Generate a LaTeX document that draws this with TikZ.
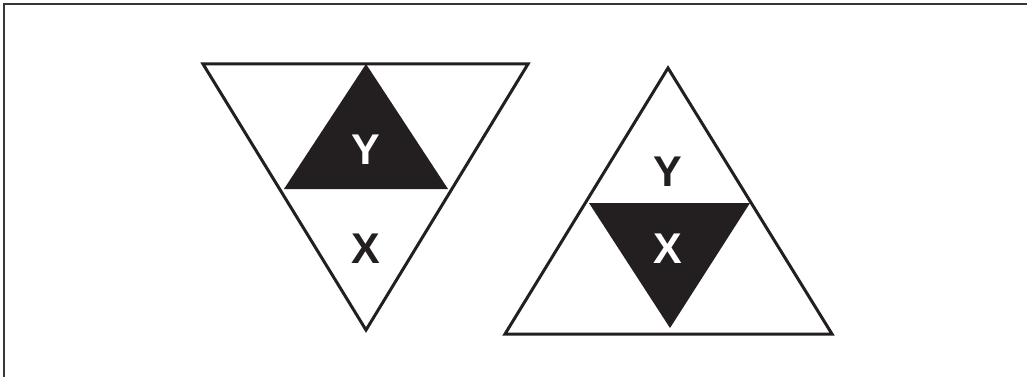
\documentclass[tikz,border=0pt]{standalone}
\usepackage{fontspec}
\setmainfont{Liberation Sans}
\definecolor{ink}{HTML}{231F20}
\begin{document}
\begin{tikzpicture}[x=1pt,y=-1pt,
  outline/.style={draw=ink,line width=3pt,line join=miter},
  solid/.style={fill=ink},
  lbl/.style={font=\fontsize{43}{43}\selectfont\bfseries,inner sep=0pt,anchor=base},
  frame/.style={draw=ink!90,line width=2pt}]
\useasboundingbox (0,0) rectangle (1027,377);
% frame
\draw[frame] (4,377) -- (4,4) -- (1027,4);
% left (inverted) triangle
\coordinate (LA) at (203,64);
\coordinate (LB) at (528,64);
\coordinate (LC) at (366,330);
\fill[solid] (366,64) -- (448,189) -- (284,189) -- cycle;
\draw[outline] (LA) -- (LB) -- (LC) -- cycle;
\node[lbl,text=white] (ly) at (366,164) {Y};
\node[lbl,text=ink] (lx) at (366,263) {X};
% right triangle
\coordinate (RA) at (668,68);
\coordinate (RB) at (832,334);
\coordinate (RC) at (505,334);
\fill[solid] (589,203) -- (750,203) -- (670,328) -- cycle;
\draw[outline] (RA) -- (RB) -- (RC) -- cycle;
\node[lbl,text=ink] (ry) at (668,186) {Y};
\node[lbl,text=white] (rx) at (668,263) {X};
\end{tikzpicture}
\end{document}
